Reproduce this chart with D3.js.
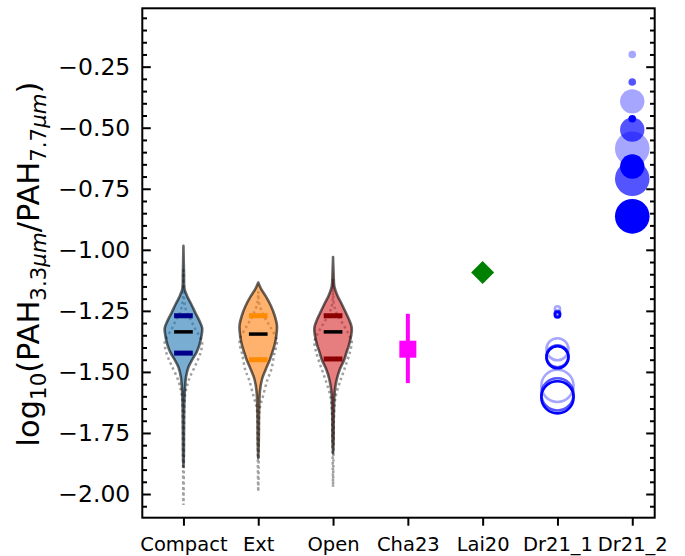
<!DOCTYPE html>
<html><head><meta charset="utf-8">
<script src="https://cdn.jsdelivr.net/npm/d3@7"></script>
<style>body{margin:0;background:#fff;} svg{display:block;font-family:"DejaVu Sans",sans-serif;}</style>
</head><body><svg id="c" width="685" height="556"></svg>
<script>
// ---------------- data ----------------
const categories = ["Compact", "Ext", "Open", "Cha23", "Lai20", "Dr21_1", "Dr21_2"];
const yTickValues = [-2.0, -1.75, -1.5, -1.25, -1.0, -0.75, -0.5, -0.25];

// violin profiles (value, relative density)
const compactVals = [-0.984, -1.10, -1.16, -1.19, -1.22, -1.26, -1.29, -1.32, -1.35, -1.39, -1.42, -1.45, -1.48, -1.52, -1.58, -1.65, -1.75, -1.85, -1.888];
const compactDens = [0, 0.03, 0.06, 0.2, 0.4, 0.65, 0.85, 1.0, 0.97, 0.85, 0.7, 0.47, 0.27, 0.14, 0.07, 0.04, 0.03, 0.02, 0];
const extVals = [-1.134, -1.16, -1.19, -1.23, -1.27, -1.31, -1.35, -1.39, -1.42, -1.45, -1.49, -1.53, -1.58, -1.68, -1.78, -1.853];
const extDens = [0, 0.15, 0.4, 0.68, 0.88, 1.0, 0.97, 0.87, 0.75, 0.62, 0.4, 0.2, 0.09, 0.04, 0.03, 0];
const openVals = [-1.03, -1.10, -1.15, -1.19, -1.22, -1.26, -1.29, -1.32, -1.35, -1.39, -1.42, -1.45, -1.49, -1.53, -1.58, -1.68, -1.78, -1.833];
const openDens = [0, 0.03, 0.07, 0.25, 0.45, 0.7, 0.88, 1.0, 0.97, 0.85, 0.72, 0.6, 0.36, 0.2, 0.09, 0.04, 0.03, 0];

// second (dotted) distributions
const compactAltVals = [-1.08, -1.20, -1.25, -1.28, -1.32, -1.36, -1.38, -1.42, -1.47, -1.53, -1.59, -1.70, -1.90, -2.045];
const compactAltDens = [0, 0.03, 0.15, 0.35, 0.6, 0.9, 1.0, 0.92, 0.66, 0.3, 0.1, 0.03, 0.02, 0];
const extAltVals = [-1.17, -1.22, -1.27, -1.31, -1.36, -1.38, -1.43, -1.49, -1.53, -1.60, -1.65, -1.75, -1.90, -1.99];
const extAltDens = [0, 0.05, 0.3, 0.6, 0.95, 1.0, 0.85, 0.7, 0.5, 0.25, 0.08, 0.03, 0.02, 0];
const openAltVals = [-1.12, -1.22, -1.26, -1.30, -1.34, -1.37, -1.38, -1.42, -1.49, -1.545, -1.60, -1.66, -1.80, -1.97];
const openAltDens = [0, 0.04, 0.2, 0.5, 0.8, 0.98, 1.0, 0.9, 0.6, 0.35, 0.14, 0.06, 0.03, 0];

const quartileHigh = [-1.27, -1.27, -1.27];
const medians = [-1.336, -1.345, -1.336];
const quartileLow = [-1.423, -1.45, -1.447];

const cha23Value = -1.407;
const cha23ErrLow = 0.139;
const cha23ErrHigh = 0.145;

const lai20Value = -1.093;

// Dr21 points: aperture group (0 small, 1 medium, 2 large) and tier (0 faint, 1 mid, 2 full)
const dr21Aperture = [0, 0, 0, 1, 1, 1, 2, 2, 2];
const dr21Tier = [0, 1, 2, 0, 1, 2, 0, 1, 2];
const dr21_1Values = [-1.242, -1.26, -1.266, -1.407, -1.436, -1.44, -1.557, -1.592, -1.604];
const dr21_2Values = [-0.200, -0.313, -0.463, -0.392, -0.508, -0.659, -0.586, -0.709, -0.863];

// ---------------- drawing ----------------
const svg = d3.select("#c");
const x = d3.scaleLinear().domain([-0.55, 6.3]).range([142.3, 654.7]);
const y = d3.scaleLinear().domain([-2.097, -0.011]).range([517.7, 8.3]);
const halfW = 0.25;

function violin(center, vals, dens) {
  const pts = vals.map((v, i) => ({v: v, d: dens[i]}));
  return d3.area()
    .y(p => y(p.v))
    .x0(p => x(center - halfW * p.d))
    .x1(p => x(center + halfW * p.d))
    .curve(d3.curveCatmullRom.alpha(0.5))(pts);
}

const fills = ["#1f77b4", "#ff7f0e", "#d62728"];
const quartColors = ["#00008b", "#ff8c00", "#8b0000"];
const mainV = [[compactVals, compactDens], [extVals, extDens], [openVals, openDens]];
const altV = [[compactAltVals, compactAltDens], [extAltVals, extAltDens], [openAltVals, openAltDens]];

const gV = svg.append("g");
altV.forEach((a, i) => {
  gV.append("path").attr("d", violin(i, a[0], a[1]))
    .attr("fill", "none").attr("stroke", "#a0a0a0")
    .attr("stroke-width", 2.5).attr("stroke-dasharray", "2.5,3");
});
mainV.forEach((a, i) => {
  gV.append("path").attr("d", violin(i, a[0], a[1]))
    .attr("fill", fills[i]).attr("fill-opacity", 0.6)
    .attr("stroke", "#000").attr("stroke-opacity", 0.6).attr("stroke-width", 2.6)
    .attr("stroke-linejoin", "round");
});
const bw = 0.125;
[quartileHigh, quartileLow].forEach(arr => {
  arr.forEach((v, i) => {
    gV.append("line").attr("x1", x(i - bw)).attr("x2", x(i + bw))
      .attr("y1", y(v)).attr("y2", y(v))
      .attr("stroke", quartColors[i]).attr("stroke-width", 5);
  });
});
medians.forEach((v, i) => {
  gV.append("line").attr("x1", x(i - bw)).attr("x2", x(i + bw))
    .attr("y1", y(v)).attr("y2", y(v))
    .attr("stroke", "#000").attr("stroke-width", 3.5);
});

// Cha23
svg.append("line").attr("x1", x(3)).attr("x2", x(3))
  .attr("y1", y(cha23Value - cha23ErrLow)).attr("y2", y(cha23Value + cha23ErrHigh))
  .attr("stroke", "#ff00ff").attr("stroke-width", 4);
svg.append("rect").attr("x", x(3) - 8.5).attr("y", y(cha23Value) - 8.5)
  .attr("width", 17).attr("height", 17).attr("fill", "#ff00ff");

// Lai20
const dx = x(4), dy = y(lai20Value), dr = 11.5;
svg.append("path").attr("d", `M${dx},${dy - dr}L${dx + dr},${dy}L${dx},${dy + dr}L${dx - dr},${dy}Z`)
  .attr("fill", "#008000");

// Dr21
const rScale = d3.scaleOrdinal().domain([0, 1, 2]).range([3.8, 12.2, 17.3]);
const aScale = d3.scaleOrdinal().domain([0, 1, 2]).range([0.35, 0.67, 1.0]);
const order = d3.range(9);
svg.append("g").selectAll("circle").data(order).join("circle")
  .attr("cx", x(5)).attr("cy", i => y(dr21_1Values[i]))
  .attr("r", i => rScale(dr21Aperture[i]) - 1.2)
  .attr("fill", "none").attr("stroke", "#0000ff").attr("stroke-width", 2.6)
  .attr("stroke-opacity", i => aScale(dr21Tier[i]));
svg.append("g").selectAll("circle").data(order).join("circle")
  .attr("cx", x(6)).attr("cy", i => y(dr21_2Values[i]))
  .attr("r", i => rScale(dr21Aperture[i]))
  .attr("fill", "#0000ff").attr("fill-opacity", i => aScale(dr21Tier[i]));

// axes
const fmt = d3.format(".2f");
const minor = d3.range(-2.05, 0.001, 0.05).map(v => +v.toFixed(2)).filter(v => !yTickValues.some(t => Math.abs(t - v) < 1e-6) && v > -2.097 && v < -0.011);

function clean(g) { g.select(".domain").remove(); g.selectAll("line").attr("stroke-width", 2); }

svg.append("g").attr("transform", "translate(142.3,0)")
  .call(d3.axisLeft(y).tickValues(yTickValues).tickSizeInner(-8.5).tickSizeOuter(0).tickPadding(12).tickFormat(fmt))
  .call(clean)
  .call(g => g.selectAll("text").attr("font-size", 23.5).attr("fill", "#000").attr("font-family", "DejaVu Sans"));
svg.append("g").attr("transform", "translate(142.3,0)")
  .call(d3.axisLeft(y).tickValues(minor).tickSizeInner(-4.7).tickSizeOuter(0).tickFormat(""))
  .call(clean);
svg.append("g").attr("transform", "translate(654.7,0)")
  .call(d3.axisRight(y).tickValues(yTickValues).tickSizeInner(-8.5).tickSizeOuter(0).tickFormat(""))
  .call(clean);
svg.append("g").attr("transform", "translate(654.7,0)")
  .call(d3.axisRight(y).tickValues(minor).tickSizeInner(-4.7).tickSizeOuter(0).tickFormat(""))
  .call(clean);
svg.append("g").attr("transform", "translate(0,517.7)")
  .call(d3.axisBottom(x).tickValues(d3.range(categories.length)).tickSizeInner(8).tickSizeOuter(0).tickPadding(11.5).tickFormat(i => categories[i]))
  .call(clean)
  .call(g => g.selectAll("text").attr("font-size", 19.5).attr("fill", "#000").attr("font-family", "DejaVu Sans"));

// frame
svg.append("rect").attr("x", 142.3).attr("y", 8.3).attr("width", 654.7 - 142.3).attr("height", 517.7 - 8.3)
  .attr("fill", "none").attr("stroke", "#000").attr("stroke-width", 2);

// y label
const sub = 6.8;
const lab = svg.append("text").attr("transform", "translate(39,264) rotate(-90)")
  .attr("text-anchor", "middle").attr("font-size", 30.5).attr("fill", "#000");
lab.append("tspan").text("log");
lab.append("tspan").attr("font-size", "70%").attr("dy", sub).text("10");
lab.append("tspan").attr("dy", -sub).text("(PAH");
lab.append("tspan").attr("font-size", "70%").attr("dy", sub).text("3.3");
lab.append("tspan").attr("font-size", "70%").attr("font-style", "italic").text("μm");
lab.append("tspan").attr("dy", -sub).text("/PAH");
lab.append("tspan").attr("font-size", "70%").attr("dy", sub).text("7.7");
lab.append("tspan").attr("font-size", "70%").attr("font-style", "italic").text("μm");
lab.append("tspan").attr("dy", -sub).text(")");
</script>
</body></html>
